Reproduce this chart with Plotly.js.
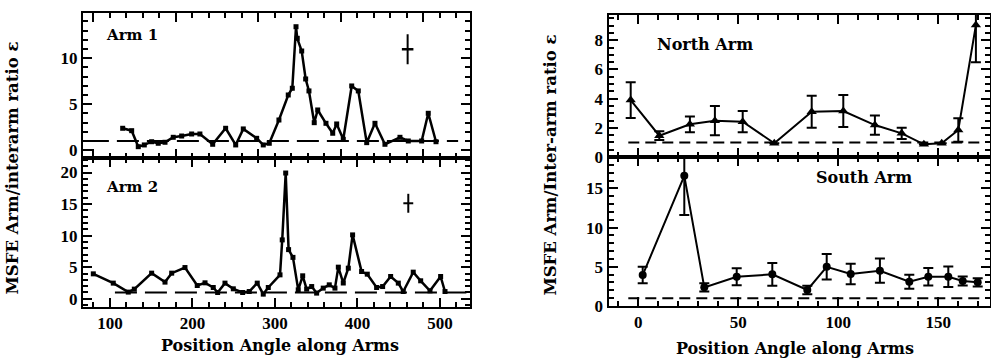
<!DOCTYPE html>
<html>
<head>
<meta charset="utf-8">
<script src="https://cdn.plot.ly/plotly-3.0.1.min.js"></script>
<style>
html,body{margin:0;padding:0;background:#fff;}
#wrap{position:relative;width:991px;height:360px;}
#chart{width:991px;height:360px;}
.lbl{position:absolute;white-space:nowrap;font-family:'DejaVu Serif',serif;font-weight:bold;color:#000;line-height:1;}
.left{transform:translate(0,-50%);}
.center{transform:translate(-50%,-50%);}
.ytitle{transform:translate(-50%,-50%) rotate(-90deg);font-size:16.5px;}
</style>
</head>
<body>
<div id="wrap">
<div id="chart"></div>
<div class="lbl left" style="left:107px;top:35px;font-size:15px;">Arm 1</div>
<div class="lbl left" style="left:107px;top:187px;font-size:15px;">Arm 2</div>
<div class="lbl left" style="left:657px;top:45px;font-size:16px;">North Arm</div>
<div class="lbl left" style="left:816px;top:178px;font-size:16px;">South Arm</div>
<div class="lbl center" style="left:280px;top:346px;font-size:16px;">Position Angle along Arms</div>
<div class="lbl center" style="left:795px;top:349px;font-size:16px;">Position Angle along Arms</div>
<div class="lbl ytitle" style="left:13px;top:168px;">MSFE Arm/interarm ratio ε</div>
<div class="lbl ytitle" style="left:551px;top:165px;">MSFE Arm/Inter-arm ratio ε</div>
</div>
<script>
// ---- Data ----
const arm1X = [115.4,126.3,134.3,141.6,150.5,158.5,166.7,176.7,186.9,199,209,224.5,240.2,252.4,261.6,277.8,285.8,293.1,304.8,316.1,321,325.5,327,332.4,337.2,341.2,347.6,351.8,361.8,370,374.8,382.8,393,401,411.2,421.2,433.3,451.5,461.6,477.8,485.8,495.2];
const arm1Y = [2.39,2.13,0.39,0.58,0.93,0.76,0.87,1.41,1.55,1.77,1.77,0.65,2.39,0.58,2.32,1.30,0.58,0.76,3.29,6.01,6.74,13.43,12.17,10.79,7.75,6.45,3.0,4.38,2.93,1.85,2.86,1.2,6.99,6.45,0.83,2.93,0.65,1.41,1.01,1.01,4.02,0.93];

const arm2X = [79.8,104,122.2,129.5,150.5,166.7,174.8,190.9,205.8,215.2,225.2,230.5,239.4,249.5,260.8,268.8,278.5,285.8,291.9,306.1,308.8,313,316.5,321.8,328.2,333.6,338.4,344.5,350.5,358.5,365.8,372.7,376.8,382.8,388.9,394.1,405,411.9,423.2,430.5,440.2,449.5,455.5,467.6,476.6,487.9,500.8,506.1];
const arm2Y = [3.95,2.48,1.06,1.53,4.06,2.64,4.06,4.95,2.10,2.53,1.79,1.0,2.48,1.58,1.0,1.15,2.48,0.74,1.79,3.79,9.33,19.92,7.79,6.56,1.42,3.64,1.53,1.94,0.9,1.69,2.21,1.69,5.01,2.5,4.85,10.12,4.32,3.9,1.79,1.94,3.53,2.48,1.15,4.22,2.85,1.26,3.53,1.15];

// representative error crosses
const arm1Err = {x:[460.8], y:[10.98], ex:[7], ey:[1.63]};
const arm2Err = {x:[461.6], y:[15.13], ex:[6], ey:[1.5]};

const northX = [-3.8,10.5,25.8,38.3,52.2,68,86.7,102.5,118.3,131.7,142.8,151.7,160,168.8];
const northY = [3.9,1.46,2.24,2.49,2.42,0.94,3.1,3.15,2.19,1.62,0.87,0.94,1.85,9.04];
const northE = [1.23,0.3,0.54,1.0,0.73,0,1.1,1.1,0.66,0.38,0,0,0.8,2.55];

const southX = [2.2,23,33,49.2,67,84.5,94.2,106.2,120.8,135.5,145,155,162.2,169.7];
const southY = [3.95,16.6,2.38,3.73,4.04,2.04,5.0,4.08,4.5,3.1,3.73,3.73,3.18,3.02];
const southE = [1.06,5.0,0.53,1.07,1.45,0.53,1.63,1.3,1.55,0.9,1.12,1.3,0.57,0.53];

const refLevel = 1;
const leftRefTopX = [72, 522];
const leftRefBotX = [106, 532];
const rightRefX = [-5, 172];

// ---- Styling ----
const TICKFONT = 'Liberation Serif, serif';
const tf = {family: TICKFONT, size: 17, weight: 'bold', color: 'black'};
function ax(o) {
  return Object.assign({
    showline: true, linewidth: 2, linecolor: 'black', mirror: 'allticks',
    ticks: 'inside', ticklen: 9, tickwidth: 2, tickcolor: 'black',
    showgrid: false, zeroline: false, tickfont: tf
  }, o);
}
function minor(d) { return {ticks: 'inside', ticklen: 5, dtick: d}; }
const lineL = {color: 'black', width: 2.5};
const dashL = {color: 'black', width: 2, dash: '22px,8px'};
const dashR = {color: 'black', width: 2, dash: '11px,6px'};

const traces = [
  // Arm 2 (bottom-left)
  {x: leftRefBotX, y: leftRefBotX.map(() => refLevel), xaxis: 'x', yaxis: 'y', mode: 'lines', line: dashL},
  {x: arm2X, y: arm2Y, xaxis: 'x', yaxis: 'y', mode: 'lines+markers', line: lineL, marker: {symbol: 'square', size: 5, color: 'black'}},
  {x: arm2Err.x, y: arm2Err.y, xaxis: 'x', yaxis: 'y', mode: 'markers', marker: {size: 1, color: 'black'},
   error_x: {type: 'data', array: arm2Err.ex, color: 'black', thickness: 2, width: 0},
   error_y: {type: 'data', array: arm2Err.ey, color: 'black', thickness: 2, width: 0}},
  // Arm 1 (top-left)
  {x: leftRefTopX, y: leftRefTopX.map(() => refLevel), xaxis: 'x2', yaxis: 'y2', mode: 'lines', line: dashL},
  {x: arm1X, y: arm1Y, xaxis: 'x2', yaxis: 'y2', mode: 'lines+markers', line: lineL, marker: {symbol: 'square', size: 5, color: 'black'}},
  {x: arm1Err.x, y: arm1Err.y, xaxis: 'x2', yaxis: 'y2', mode: 'markers', marker: {size: 1, color: 'black'},
   error_x: {type: 'data', array: arm1Err.ex, color: 'black', thickness: 2.5, width: 0},
   error_y: {type: 'data', array: arm1Err.ey, color: 'black', thickness: 2, width: 0}},
  // South arm (bottom-right)
  {x: rightRefX, y: rightRefX.map(() => refLevel), xaxis: 'x3', yaxis: 'y3', mode: 'lines', line: dashR},
  {x: southX, y: southY, xaxis: 'x3', yaxis: 'y3', mode: 'lines+markers', line: {color: 'black', width: 2},
   marker: {symbol: 'circle', size: 8, color: 'black'},
   error_y: {type: 'data', array: southE, color: 'black', thickness: 2, width: 5}},
  // North arm (top-right)
  {x: rightRefX, y: rightRefX.map(() => refLevel), xaxis: 'x4', yaxis: 'y4', mode: 'lines', line: dashR},
  {x: northX, y: northY, xaxis: 'x4', yaxis: 'y4', mode: 'lines+markers', line: {color: 'black', width: 2},
   marker: {symbol: 'triangle-up', size: 9, color: 'black'},
   error_y: {type: 'data', array: northE, color: 'black', thickness: 2, width: 5}}
];

const H = 360, W = 991;
const layout = {
  width: W, height: H, margin: {l: 0, r: 0, t: 0, b: 0}, showlegend: false,
  xaxis: ax({domain: [83/W, 470/W], range: [67.3, 536.4], anchor: 'y', tick0: 0, dtick: 100, minor: minor(20)}),
  yaxis: ax({domain: [1 - 307/H, 1 - 158/H], range: [-1.3, 22.3], anchor: 'x', tick0: 0, dtick: 5, minor: minor(1)}),
  xaxis2: ax({domain: [83/W, 470/W], range: [67.3, 536.4], anchor: 'y2', tick0: 80, dtick: 100, minor: minor(20), showticklabels: false}),
  yaxis2: ax({domain: [1 - 158/H, 1 - 13/H], range: [-0.84, 14.92], anchor: 'x2', tick0: 0, dtick: 5, minor: minor(1)}),
  xaxis3: ax({domain: [608.5/W, 990/W], range: [-14.9, 175.85], anchor: 'y3', tick0: 0, dtick: 50, minor: minor(10)}),
  yaxis3: ax({domain: [1 - 306/H, 1 - 157/H], range: [0, 19], anchor: 'x3', tick0: 0, dtick: 5, minor: minor(1)}),
  xaxis4: ax({domain: [608.5/W, 990/W], range: [-14.9, 175.85], anchor: 'y4', tick0: 0, dtick: 50, minor: minor(10), showticklabels: false}),
  yaxis4: ax({domain: [1 - 157/H, 1 - 15/H], range: [0, 9.73], anchor: 'x4', tick0: 0, dtick: 2, minor: minor(0.5)})
};

Plotly.newPlot('chart', traces, layout, {displayModeBar: false, staticPlot: true}).then(gd => {
  document.body.setAttribute('data-ticks', String(document.querySelectorAll('path.xtick').length));
});
</script>
</body>
</html>
